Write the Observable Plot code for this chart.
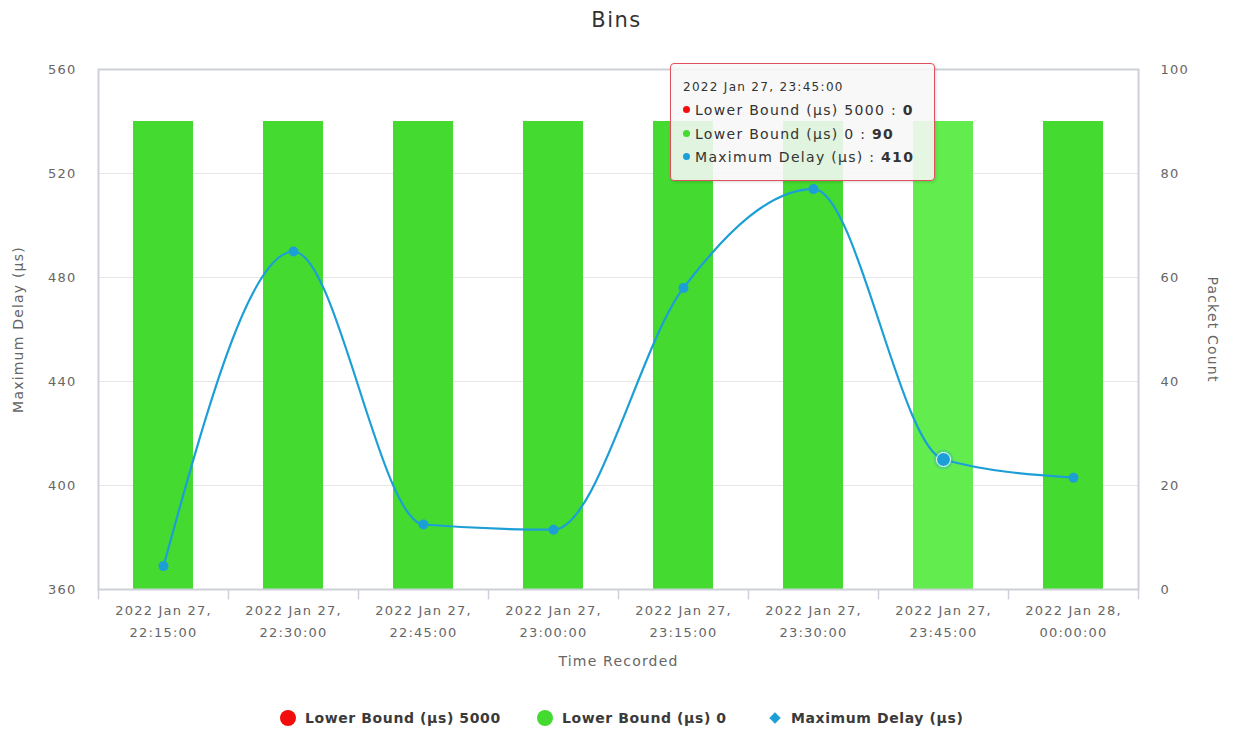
<!DOCTYPE html>
<html>
<head>
<meta charset="utf-8">
<script src="https://cdn.jsdelivr.net/npm/d3@7"></script>
<script src="https://cdn.jsdelivr.net/npm/@observablehq/plot@0.6"></script>
<style>
  html, body { margin: 0; padding: 0; background: #fff; }
  body { font-family: "DejaVu Sans", sans-serif; }
  #wrap { position: relative; width: 1233px; height: 733px; overflow: hidden; }
  #title { position: absolute; left: 0; top: 8px; width: 1233px; text-align: center; font-size: 21px; letter-spacing: 1.5px; color: #333; }
  #chart { position: absolute; left: 0; top: 45px; }
  #legend { position: absolute; left: 0; top: 707px; width: 1233px; height: 22px; font-size: 14px; font-weight: bold; letter-spacing: 0.6px; color: #3a3a3a; }
  .item { position: absolute; top: 0; display: flex; align-items: center; height: 22px; white-space: nowrap; }
  .sw { display: inline-block; }
  #tip { position: absolute; left: 670px; top: 63px; width: 263px; height: 116px; border: 1.5px solid #e0505e; border-radius: 4px; background: rgba(247,247,247,0.88); box-shadow: 1px 1px 3px rgba(0,0,0,0.15); font-size: 14px; letter-spacing: 1.3px; color: #333; }
  #tip .hd { font-size: 12px; margin: 15px 0 4px 12px; line-height: 16px; }
  #tip .row { margin: 0 0 0 12px; line-height: 23.5px; white-space: nowrap; }
  #tip .dot { display: inline-block; width: 7px; height: 7px; border-radius: 50%; margin-right: 5px; vertical-align: 2px; }
</style>
</head>
<body>
<div id="wrap">
  <div id="title">Bins</div>
  <div id="chart"></div>
  <div id="tip"></div>
  <div id="legend"></div>
</div>
<script>
// ---- data ----
const timeLabels = [
  "2022 Jan 27, 22:15:00", "2022 Jan 27, 22:30:00", "2022 Jan 27, 22:45:00", "2022 Jan 27, 23:00:00",
  "2022 Jan 27, 23:15:00", "2022 Jan 27, 23:30:00", "2022 Jan 27, 23:45:00", "2022 Jan 28, 00:00:00"
];
const lowerBound5000 = [0, 0, 0, 0, 0, 0, 0, 0];
const lowerBound0 = [90, 90, 90, 90, 90, 90, 90, 90];
const maxDelay = [369, 490, 385, 383, 476, 514, 410, 403];
const highlighted = "2022 Jan 27, 23:45:00";

const seriesNames = ["Lower Bound (µs) 5000", "Lower Bound (µs) 0", "Maximum Delay (µs)"];
const seriesColors = ["#f20d0d", "#44da30", "#1c9fd6"];
const hoverGreen = "#62ec4d";

const leftTicks = [360, 400, 440, 480, 520, 560];
const delayDomain = [360, 560];
const countDomain = [0, 100];

// count -> delay mapping (secondary axis)
const countToDelay = c => delayDomain[0] + (c - countDomain[0]) * (delayDomain[1] - delayDomain[0]) / (countDomain[1] - countDomain[0]);
const delayToCount = d => countDomain[0] + (d - delayDomain[0]) * (countDomain[1] - countDomain[0]) / (delayDomain[1] - delayDomain[0]);

const rows = timeLabels.map((t, i) => ({t, lb5000: lowerBound5000[i], lb0: lowerBound0[i], delay: maxDelay[i]}));

const width = 1233, marginLeft = 98, marginRight = 95, marginTop = 24, marginBottom = 100;
const height = marginTop + 520 + marginBottom;
const step = (width - marginLeft - marginRight) / timeLabels.length;
const gridColor = "#e6e6e6", frameColor = "#cdd0d8", tickText = "#666";

const plot = Plot.plot({
  width, height, marginLeft, marginRight, marginTop, marginBottom,
  style: {fontFamily: "'DejaVu Sans', sans-serif", fontSize: "13px", letterSpacing: "1.2px", color: tickText, background: "transparent"},
  x: {type: "band", domain: timeLabels, paddingInner: 0.54, paddingOuter: 0.27, axis: null},
  y: {domain: delayDomain, axis: null},
  marks: [
    Plot.ruleY(leftTicks.slice(1, -1), {stroke: gridColor, strokeWidth: 1}),
    Plot.barY(rows, {x: "t", y1: d => countToDelay(0), y2: d => countToDelay(d.lb0),
      fill: d => d.t === highlighted ? hoverGreen : seriesColors[1]}),
    Plot.barY(rows, {x: "t", y1: d => countToDelay(0), y2: d => countToDelay(d.lb5000), fill: seriesColors[0]}),
    Plot.frame({stroke: frameColor, strokeWidth: 2}),
    // category boundary ticks
    Plot.ruleX(timeLabels, {x: d => d, y1: delayDomain[0], y2: delayDomain[0] - 4, dx: -step / 2, stroke: frameColor, strokeWidth: 1.5}),
    Plot.ruleX(timeLabels.slice(-1), {x: d => d, y1: delayDomain[0], y2: delayDomain[0] - 4, dx: step / 2, stroke: frameColor, strokeWidth: 1.5}),
    Plot.axisX({domain: timeLabels, tickSize: 0, tickPadding: 10, label: null, lineHeight: 1.7,
      tickFormat: d => d.replace(", ", ",\n"), fill: tickText, fontSize: 13}),
    Plot.axisY(leftTicks, {anchor: "left", tickSize: 0, tickPadding: 22, label: null, fill: tickText}),
    Plot.axisY(leftTicks, {anchor: "right", tickSize: 0, tickPadding: 22, label: null, fill: tickText, textAnchor: "start",
      tickFormat: d => delayToCount(d)}),
    Plot.line(rows, {x: "t", y: "delay", stroke: seriesColors[2], strokeWidth: 2.2, curve: "monotone-x"}),
    Plot.dot(rows.filter(d => d.t !== highlighted), {x: "t", y: "delay", r: 5, fill: seriesColors[2]}),
    Plot.dot(rows.filter(d => d.t === highlighted), {x: "t", y: "delay", r: 10, fill: seriesColors[2], fillOpacity: 0.25}),
    Plot.dot(rows.filter(d => d.t === highlighted), {x: "t", y: "delay", r: 7, fill: seriesColors[2], stroke: "#fff", strokeWidth: 1}),
    Plot.text(["Maximum Delay (µs)"], {frameAnchor: "left", textAnchor: "middle", dx: -80, rotate: -90, fontSize: 14, fill: tickText}),
    Plot.text(["Packet Count"], {frameAnchor: "right", textAnchor: "middle", dx: 74, rotate: 90, fontSize: 14, fill: tickText}),
    Plot.text(["Time Recorded"], {frameAnchor: "bottom", textAnchor: "middle", dy: 76, fontSize: 14, fill: tickText})
  ]
});
document.getElementById("chart").appendChild(plot);

// tooltip
const hi = timeLabels.indexOf(highlighted);
const tip = document.getElementById("tip");
const tipVals = [lowerBound5000[hi], lowerBound0[hi], maxDelay[hi]];
tip.innerHTML = `<div class="hd">${highlighted}</div>` + seriesNames.map((n, i) =>
  `<div class="row"><span class="dot" style="background:${seriesColors[i]}"></span>${n} : <b>${tipVals[i]}</b></div>`).join("");

// legend
const legendLeft = [280, 537, 768];
const legend = document.getElementById("legend");
legend.innerHTML = seriesNames.map((n, i) => {
  const sw = i < 2
    ? `<span class="sw" style="width:16px;height:16px;border-radius:50%;background:${seriesColors[i]};margin-right:9px"></span>`
    : `<span class="sw" style="width:8px;height:8px;margin-left:3px;margin-right:12px;transform:rotate(45deg);background:${seriesColors[i]}"></span>`;
  return `<div class="item" style="left:${legendLeft[i]}px">${sw}${n}</div>`;
}).join("");
</script>
</body>
</html>
